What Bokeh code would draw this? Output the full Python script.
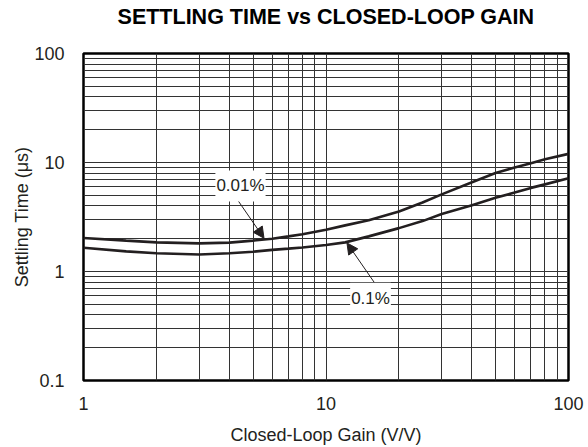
from bokeh.plotting import figure
from bokeh.models import (FixedTicker, CustomJSTickFormatter, Label, Arrow,
                          NormalHead, ColumnDataSource, Title)
from bokeh.embed import file_html
from bokeh.resources import INLINE

# ---- data ----
gain = [1, 1.5, 2, 3, 4, 5, 6, 7, 8, 10, 12, 15, 20, 25, 30, 40, 50, 60, 70, 80, 100]
settle_001 = [2.03, 1.92, 1.85, 1.81, 1.84, 1.92, 2.0, 2.1, 2.2, 2.42, 2.65, 2.95,
              3.55, 4.3, 5.1, 6.6, 8.0, 9.0, 9.85, 10.7, 12.0]
settle_01 = [1.65, 1.53, 1.47, 1.43, 1.47, 1.52, 1.58, 1.62, 1.66, 1.75, 1.85, 2.1,
             2.5, 2.9, 3.37, 4.05, 4.75, 5.3, 5.85, 6.3, 7.17]

x_major = [1, 10, 100]
x_minor = [2, 3, 4, 5, 6, 7, 8, 9, 20, 30, 40, 50, 60, 70, 80, 90]
y_major = [0.1, 1, 10, 100]
y_minor = [0.2, 0.3, 0.4, 0.5, 0.6, 0.7, 0.8, 0.9,
           2, 3, 4, 5, 6, 7, 8, 9, 20, 30, 40, 50, 60, 70, 80, 90]

TITLE = "SETTLING TIME vs CLOSED-LOOP GAIN"
FONT = "Liberation Sans"
INK = "#231f20"

p = figure(width=588, height=447, x_axis_type="log", y_axis_type="log",
           x_range=(1, 100), y_range=(0.1, 100),
           output_backend="svg", toolbar_location=None,
           min_border_left=83, min_border_right=20,
           min_border_top=52, min_border_bottom=67)

# spacer panel between the frame and the title (nearest to the frame)
p.add_layout(Title(text=" ", text_font_size="1px", standoff=20), "above")
# the chart title
p.add_layout(Title(text=TITLE, align="center", text_font=FONT,
                   text_font_size="21.5px", text_font_style="bold",
                   text_color="black", standoff=4), "above")

fmt = CustomJSTickFormatter(code="return String(tick);")
p.xaxis.ticker = FixedTicker(ticks=x_major, minor_ticks=x_minor)
p.yaxis.ticker = FixedTicker(ticks=y_major, minor_ticks=y_minor)
p.xaxis.formatter = fmt
p.yaxis.formatter = fmt

for ax in (p.xaxis, p.yaxis):
    ax.axis_line_color = None
    ax.major_tick_line_color = None
    ax.minor_tick_line_color = None
    ax.major_label_text_font = FONT
    ax.major_label_text_font_size = "18px"
    ax.major_label_text_color = INK
    ax.axis_label_text_font = FONT
    ax.axis_label_text_font_size = "18px"
    ax.axis_label_text_font_style = "normal"
    ax.axis_label_text_color = INK

p.xaxis.axis_label = "Closed-Loop Gain (V/V)"
p.yaxis.axis_label = "Settling Time (\u03bcs)"
p.xaxis.major_label_standoff = 10
p.xaxis.axis_label_standoff = 12
p.yaxis.major_label_standoff = 13
p.yaxis.axis_label_standoff = -1

for g in (p.xgrid, p.ygrid):
    g.grid_line_color = "#333333"
    g.grid_line_width = 1
    g.minor_grid_line_color = "#333333"
    g.minor_grid_line_width = 1

p.outline_line_color = "black"
p.outline_line_width = 2.5
p.background_fill_color = "white"
p.border_fill_color = "white"

src = ColumnDataSource(dict(g=gain, a=settle_001, b=settle_01))
p.line("g", "a", source=src, line_width=2.6, line_color=INK)
p.line("g", "b", source=src, line_width=2.6, line_color=INK)

# annotations
p.add_layout(Arrow(end=NormalHead(size=11, fill_color=INK, line_color=INK),
                   x_start=4.30, y_start=4.6, x_end=5.55, y_end=2.02,
                   line_color=INK, line_width=1))
p.add_layout(Arrow(end=NormalHead(size=11, fill_color=INK, line_color=INK),
                   x_start=16.3, y_start=0.72, x_end=12.2, y_end=1.83,
                   line_color=INK, line_width=1))

for (lx, ly, txt) in [(4.44, 6.1, "0.01%"), (15.26, 0.567, "0.1%")]:
    p.add_layout(Label(x=lx, y=ly, text=txt, text_align="center",
                       text_baseline="middle", text_font=FONT,
                       text_font_size="17px", text_color=INK,
                       background_fill_color="white", padding=(1, 6)))

open("out.html", "w").write(file_html(p, INLINE))
